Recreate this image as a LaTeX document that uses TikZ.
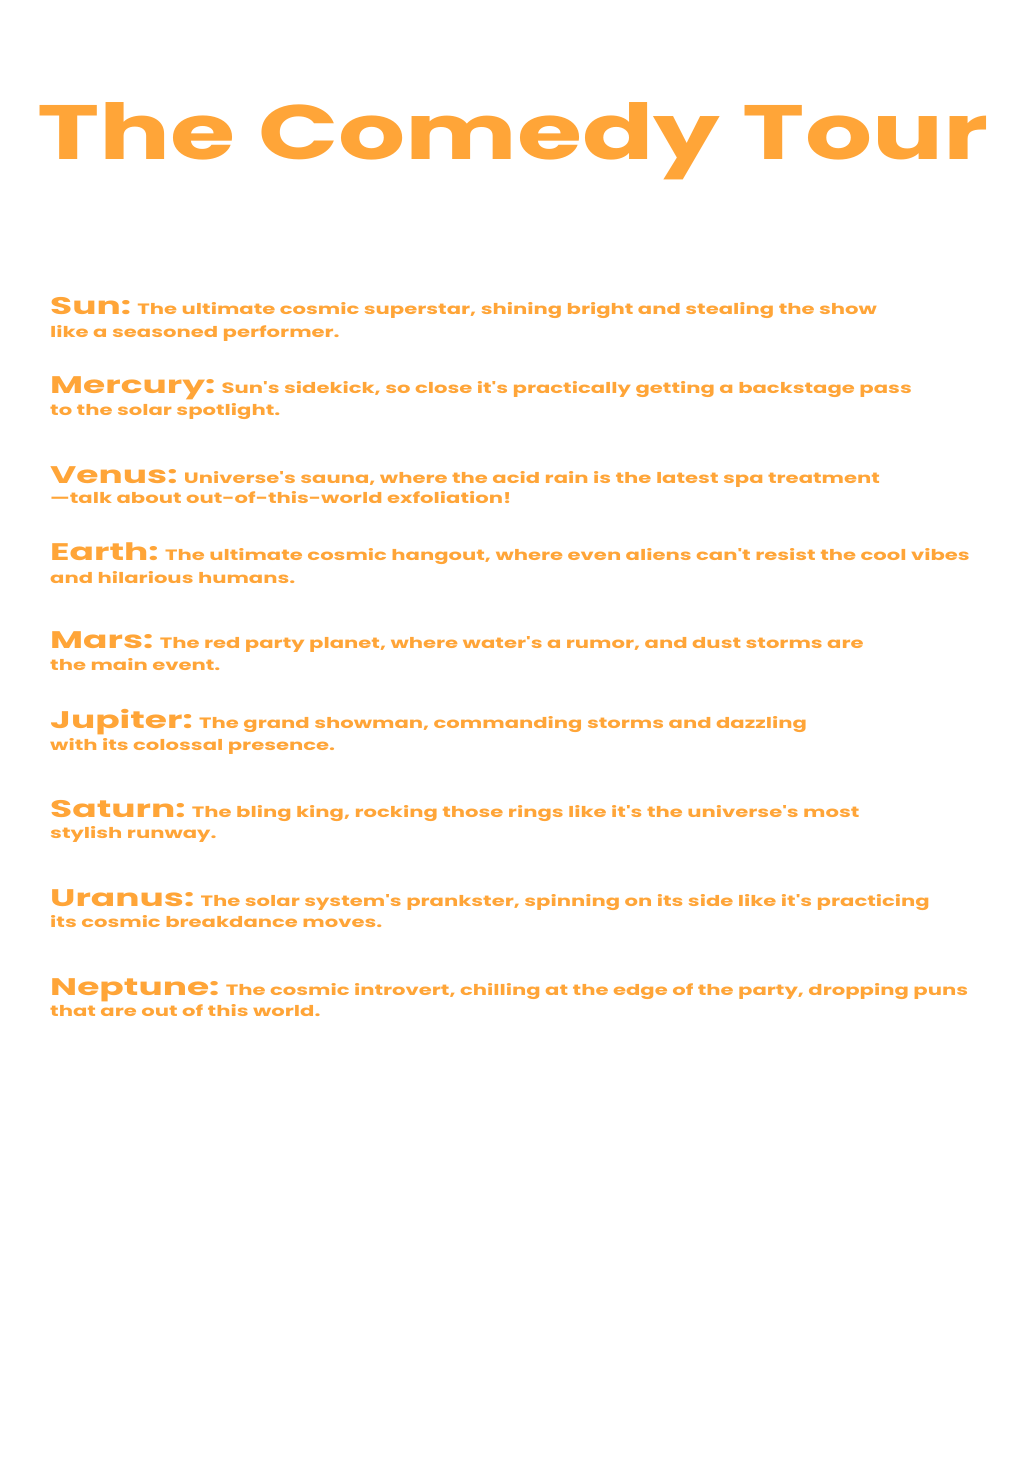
\documentclass[tikz,border=0pt]{standalone}
\usepackage{fontspec}
\newfontfamily\titlefont[FakeStretch=1.37]{Poppins}
\newfontfamily\headfont[FakeStretch=1.5]{Poppins}
\newfontfamily\bodyfont[FakeStretch=1.41]{Poppins}
\definecolor{tour}{RGB}{255,165,56}
\tikzset{
  ttl/.style={inner sep=0pt, anchor=base, text=tour, font=\titlefont\bfseries\fontsize{77}{77}\selectfont},
  hd/.style={inner sep=0pt, anchor=base west, text=tour, font=\headfont\bfseries\fontsize{24}{24}\selectfont},
  bd/.style={inner sep=0pt, anchor=base west, text=tour, font=\bodyfont\bfseries\fontsize{15}{15}\selectfont},
}
\begin{document}
\begin{tikzpicture}[x=1pt,y=-1pt]
\useasboundingbox[fill=white] (0,0) rectangle (1024,1457);
\node[ttl] (title) at (513,159) {The Comedy Tour};

\node[hd] (sunH) at (50,314) {Sun:};
\node[bd] (sun1) at ([xshift=6pt]sunH.base east) {The ultimate cosmic superstar, shining bright and stealing the show};
\node[bd] (sun2) at (50,337) {like a seasoned performer.};

\node[hd] (merH) at (50,393) {Mercury:};
\node[bd] (mer1) at ([xshift=6pt]merH.base east) {Sun's sidekick, so close it's practically getting a backstage pass};
\node[bd] (mer2) at (50,415) {to the solar spotlight.};

\node[hd] (venH) at (50,483) {Venus:};
\node[bd] (ven1) at ([xshift=6pt]venH.base east) {Universe's sauna, where the acid rain is the latest spa treatment};
\node[bd] (ven2) at (50,503) {—talk about out-of-this-world exfoliation!};

\node[hd] (earH) at (50,560) {Earth:};
\node[bd] (ear1) at ([xshift=6pt]earH.base east) {The ultimate cosmic hangout, where even aliens can't resist the cool vibes};
\node[bd] (ear2) at (50,583) {and hilarious humans.};

\node[hd] (marH) at (50,648) {Mars:};
\node[bd] (mar1) at ([xshift=6pt]marH.base east) {The red party planet, where water's a rumor, and dust storms are};
\node[bd] (mar2) at (50,670) {the main event.};

\node[hd] (jupH) at (50,728) {Jupiter:};
\node[bd] (jup1) at ([xshift=6pt]jupH.base east) {The grand showman, commanding storms and dazzling};
\node[bd] (jup2) at (50,750) {with its colossal presence.};

\node[hd] (satH) at (50,817) {Saturn:};
\node[bd] (sat1) at ([xshift=6pt]satH.base east) {The bling king, rocking those rings like it's the universe's most};
\node[bd] (sat2) at (50,838) {stylish runway.};

\node[hd] (uraH) at (50,906) {Uranus:};
\node[bd] (ura1) at ([xshift=6pt]uraH.base east) {The solar system's prankster, spinning on its side like it's practicing};
\node[bd] (ura2) at (50,927) {its cosmic breakdance moves.};

\node[hd] (nepH) at (50,995) {Neptune:};
\node[bd] (nep1) at ([xshift=6pt]nepH.base east) {The cosmic introvert, chilling at the edge of the party, dropping puns};
\node[bd] (nep2) at (50,1016) {that are out of this world.};
\end{tikzpicture}
\end{document}
